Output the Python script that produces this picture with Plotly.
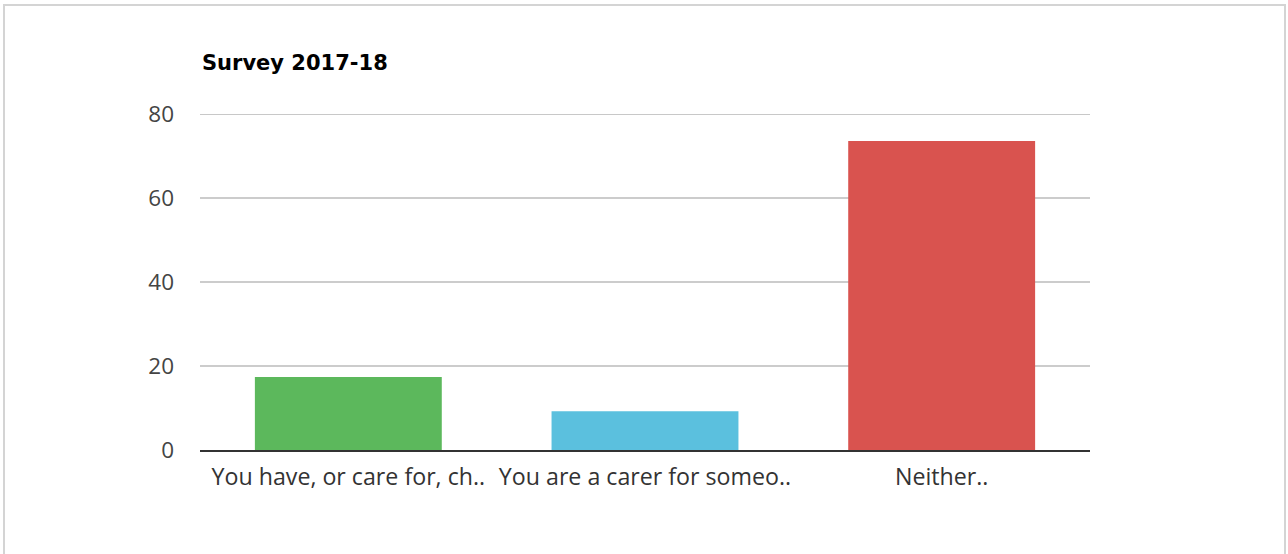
import plotly.graph_objects as go

categories = ["You have, or care for, ch..", "You are a carer for someo..", "Neither.."]
values = [17.4, 9.2, 73.6]
colors = ["#5cb85c", "#5bc0de", "#d9534f"]
y_ticks = [0, 20, 40, 60, 80]
title_text = "Survey 2017-18"

W, H = 1288, 554
L, R, T, B = 200, 198, 114, 104
pw, ph = W - L - R, H - T - B

def px_x(x):
    return (x - L) / pw

def px_y(y):
    return (H - B - y) / ph

fig = go.Figure(go.Bar(x=categories, y=values, marker=dict(color=colors, line=dict(width=0)), width=0.63))

fig.update_layout(
    width=W, height=H,
    margin=dict(l=L, r=R, t=T, b=B),
    paper_bgcolor="white", plot_bgcolor="white",
    font=dict(family="Open Sans", size=20, color="#444444"),
    showlegend=False,
    bargap=0.37,
)
fig.update_yaxes(range=[0, 80], tickvals=y_ticks, showgrid=True, gridcolor="#cccccc", gridwidth=1.5,
                 zeroline=False, showline=False, ticks="", ticklabelstandoff=25,
                 tickfont=dict(family="Open Sans", size=22.5, color="#444444"))
fig.update_xaxes(showline=True, linecolor="#333333", linewidth=2, ticks="", ticklabelstandoff=5,
                 tickfont=dict(family="Open Sans", size=23.2, color="#333333"))

# top gridline (at the axis edge, which plotly hides)
fig.add_shape(type="line", xref="paper", yref="y", x0=0, x1=1, y0=y_ticks[-1], y1=y_ticks[-1],
              line=dict(color="#c8c8c8", width=2), layer="below")

fig.add_annotation(text="<b>" + title_text + "</b>", xref="paper", yref="paper",
                   x=px_x(200), y=px_y(63), xanchor="left", yanchor="middle", showarrow=False,
                   font=dict(family="DejaVu Sans", size=21, color="#000000"))

fig.add_shape(type="rect", xref="paper", yref="paper",
              x0=px_x(4), x1=px_x(1285), y0=px_y(5), y1=px_y(560),
              line=dict(color="#d4d4d4", width=2), fillcolor="rgba(0,0,0,0)", layer="below")

fig.write_html("out.html")
